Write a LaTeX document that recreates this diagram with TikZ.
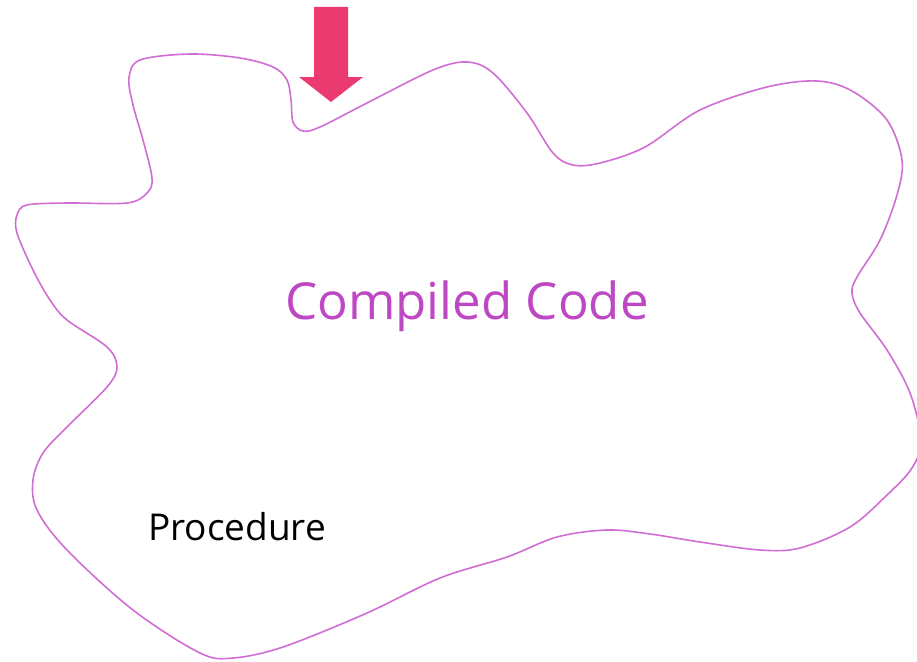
\documentclass[tikz,border=0pt]{standalone}
\usepackage{fontspec}
\setmainfont{Open Sans}
\usepackage{tikz}
\usepackage{xcolor}
\usetikzlibrary{positioning}
\definecolor{blobline}{RGB}{208,110,212}
\definecolor{codetext}{RGB}{190,72,196}
\definecolor{arrowpink}{RGB}{234,58,112}

\begin{document}
\begin{tikzpicture}[x=1pt, y=-1pt,
    blob/.style={draw=blobline, line width=1.6pt},
    bigtext/.style={text=codetext, font=\fontsize{51}{58}\selectfont},
    smalltext/.style={text=black, font=\fontsize{37}{42}\selectfont}]
% Frame
\clip (0,0) rectangle (917,661);
\fill[white] (0,0) rectangle (917,661);

% Blob
\draw[blob] plot[smooth cycle, tension=0.55] coordinates {
    (27,205) (67,203) (127,203) (147,193) (152,178) (143,140) (133,105)
    (129,78) (140,60) (190,54) (240,58) (273,67) (287,80) (291,100)
    (293,122) (303,131) (320,127) (367,103) (433,70) (467,62) (493,73)
    (527,113) (553,153) (573,165) (600,163) (645,147) (700,110) (767,87)
    (817,81) (852,91) (887,120) (902,160) (897,195) (880,240) (857,277)
    (852,293) (860,313) (887,350) (910,393) (921,440) (912,468) (887,495)
    (850,527) (800,548) (760,550) (700,542) (650,534) (607,530) (557,537)
    (507,557) (440,578) (367,613) (283,647) (233,658) (200,653) (133,610)
    (67,550) (37,510) (33,480) (43,453) (67,427) (107,387) (117,367)
    (107,347) (67,320) (50,300) (33,270) (17,233) (17,215)};

% Arrow
\fill[arrowpink] (314,7) -- (348,7) -- (348,77) -- (363,77) -- (331,102)
    -- (299,77) -- (314,77) -- cycle;

% Labels
\node[bigtext] (compiled) at (467,306) {Compiled Code};
\node[smalltext] (proc) at (237,527) {Procedure};
\end{tikzpicture}
\end{document}
